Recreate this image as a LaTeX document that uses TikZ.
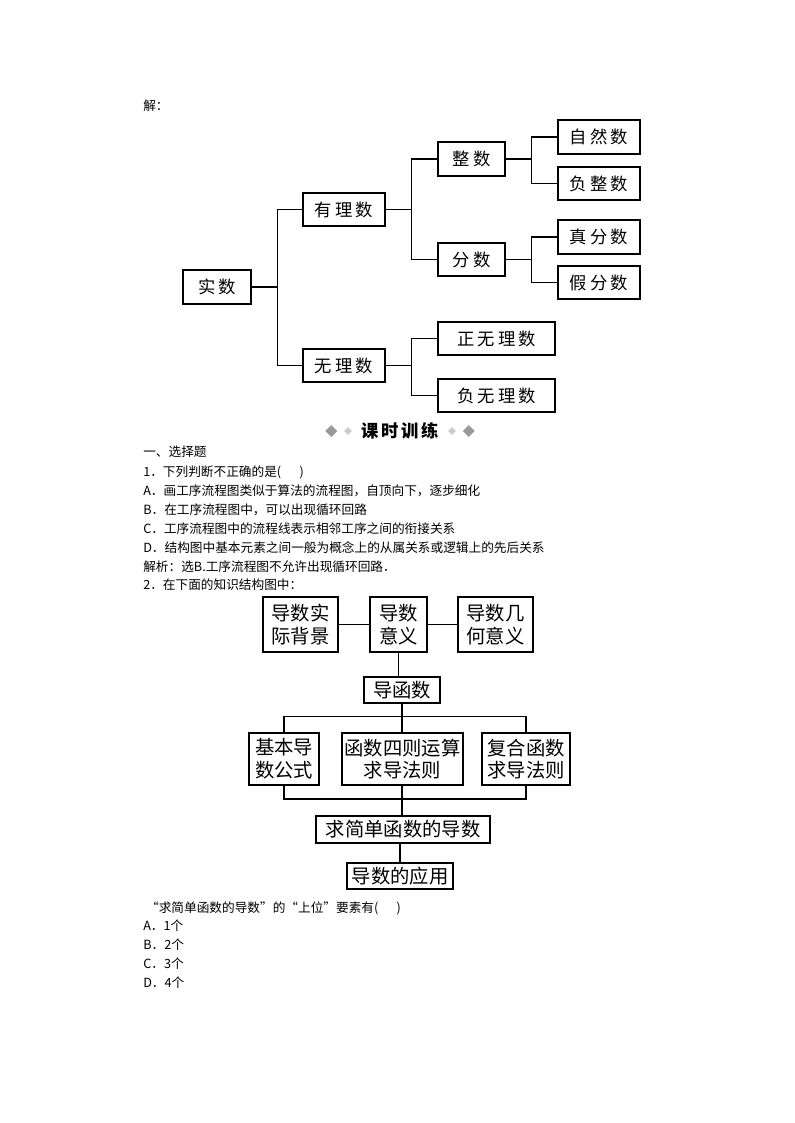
\documentclass[tikz,border=0pt]{standalone}
\usepackage{fontspec}
\setmainfont{Liberation Serif}
\newfontfamily\cjk{Noto Sans CJK SC}
\newfontfamily\cjkwide[LetterSpace=18]{Noto Sans CJK SC}
\usetikzlibrary{positioning,shapes.geometric}
\tikzset{
  box/.style={draw, thick, font=\cjkwide\fontsize{13}{15}\selectfont, inner sep=0pt},
  bigbox/.style={draw, thick, font=\cjk\fontsize{14.5}{17}\selectfont, align=center, inner sep=0pt},
  line/.style={thick},
  txt/.style={anchor=west, font=\cjk\fontsize{9.5}{11}\selectfont, inner sep=0pt},
}
\begin{document}
\begin{tikzpicture}[x=0.75pt, y=-0.75pt]
\useasboundingbox (0,0) rectangle (794,1123);
% helper: box by its pixel extents
\newcommand{\pbox}[6]{% name, style, x1, y1, x2, y2
  \node[#2, minimum width=(#5-#3)*0.75pt, minimum height=(#6-#4)*0.75pt] (#1) at ({(#3+#5)/2},{(#4+#6)/2})}
% solution tree
\node[txt] (jie) at (143,106) {解：};
\pbox{shishu}{box}{183}{270}{251}{304} {实数};
\pbox{youli}{box}{303}{193}{385}{226} {有理数};
\pbox{wuli}{box}{303}{349}{385}{382} {无理数};
\pbox{zheng}{box}{438}{142}{505}{176} {整数};
\pbox{fen}{box}{438}{243}{505}{276} {分数};
\pbox{ziran}{box}{558}{120}{640}{154} {自然数};
\pbox{fuzheng}{box}{558}{167}{640}{200} {负整数};
\pbox{zhenfen}{box}{558}{220}{640}{254} {真分数};
\pbox{jiafen}{box}{558}{266}{640}{299} {假分数};
\pbox{zhengwu}{box}{438}{322}{555}{355} {正无理数};
\pbox{fuwu}{box}{438}{379}{555}{412} {负无理数};
% tree lines
\coordinate (j1) at ([xshift=19.5pt]shishu.east);
\coordinate (j2) at ([xshift=19.5pt]youli.east);
\coordinate (j3) at ([xshift=19.5pt]zheng.east);
\coordinate (j4) at ([xshift=19.5pt]fen.east);
\coordinate (j5) at ([xshift=19.5pt]wuli.east);
\draw[line] (shishu.east) -- (j1) (youli.west) -| (j1) |- (wuli.west);
\draw[line] (youli.east) -- (j2) (zheng.west) -| (j2) |- (fen.west);
\draw[line] (zheng.east) -- (j3) (ziran.west) -| (j3) |- (fuzheng.west);
\draw[line] (fen.east) -- (j4) (zhenfen.west) -| (j4) |- (jiafen.west);
\draw[line] (wuli.east) -- (j5) (zhengwu.west) -| (j5) |- (fuwu.west);
% header
\node[font=\cjk\bfseries\fontsize{13}{15}\selectfont] (head) at (400,431) {课\,时\,训\,练};
\node[fill=gray!80, diamond, inner sep=0pt, minimum size=9pt, left=14pt of head] (dl) {};
\node[fill=gray!40, diamond, inner sep=0pt, minimum size=6pt, left=3pt of head] (dl2) {};
\node[fill=gray!40, diamond, inner sep=0pt, minimum size=6pt, right=3pt of head] (dr2) {};
\node[fill=gray!80, diamond, inner sep=0pt, minimum size=9pt, right=14pt of head] (dr) {};
% question text
\node[txt] (t1) at (143,452) {一、选择题};
\node[txt] (t2) at (143,472) {1．下列判断不正确的是(\quad\ \ )};
\node[txt] (t3) at (143,491) {A．画工序流程图类似于算法的流程图，自顶向下，逐步细化};
\node[txt] (t4) at (143,510) {B．在工序流程图中，可以出现循环回路};
\node[txt] (t5) at (143,529) {C．工序流程图中的流程线表示相邻工序之间的衔接关系};
\node[txt] (t6) at (143,548) {D．结构图中基本元素之间一般为概念上的从属关系或逻辑上的先后关系};
\node[txt] (t7) at (143,567) {解析：选B.工序流程图不允许出现循环回路．};
\node[txt] (t8) at (143,585) {2．在下面的知识结构图中：};
% knowledge structure
\pbox{bj}{bigbox}{263}{597}{338}{652} {导数实\\际背景};
\pbox{yy}{bigbox}{370}{597}{427}{652} {导数\\意义};
\pbox{jh}{bigbox}{458}{597}{533}{652} {导数几\\何意义};
\pbox{dhs}{bigbox}{364}{677}{440}{703} {导函数};
\pbox{gs}{bigbox}{249}{733}{319}{785} {基本导\\数公式};
\pbox{sz}{bigbox}{342}{733}{463}{785} {函数四则运算\\求导法则};
\pbox{fh}{bigbox}{482}{733}{570}{785} {复合函数\\求导法则};
\pbox{jd}{bigbox}{316}{816}{490}{843} {求简单函数的导数};
\pbox{yyy}{bigbox}{347}{863}{453}{889} {导数的应用};
\coordinate (s1) at ([yshift=-9.75pt]dhs.south);
\coordinate (s2) at (s1 |- 0,799);
\draw[line] (bj) -- (yy) -- (jh);
\draw[line] (yy.south) -- (yy.south |- dhs.north);
\draw[line] (dhs.south) -- (s1);
\draw[line] (gs.north) |- (s1) -| (fh.north);
\draw[line] (s1) -- (s1 |- sz.north);
\draw[line] (gs.south) |- (s2) -| (fh.south);
\draw[line] (s1 |- sz.south) -- (s2) -- (s2 |- jd.north);
\draw[line] (jd.south -| yyy) -- (yyy.north);
% closing text
\node[txt] (u1) at (143,908) {\ “求简单函数的导数”的“上位”要素有(\quad\ \ )};
\node[txt] (u2) at (143,926) {A．1个};
\node[txt] (u3) at (143,945) {B．2个};
\node[txt] (u4) at (143,964) {C．3个};
\node[txt] (u5) at (143,983) {D．4个};
\end{tikzpicture}
\end{document}
